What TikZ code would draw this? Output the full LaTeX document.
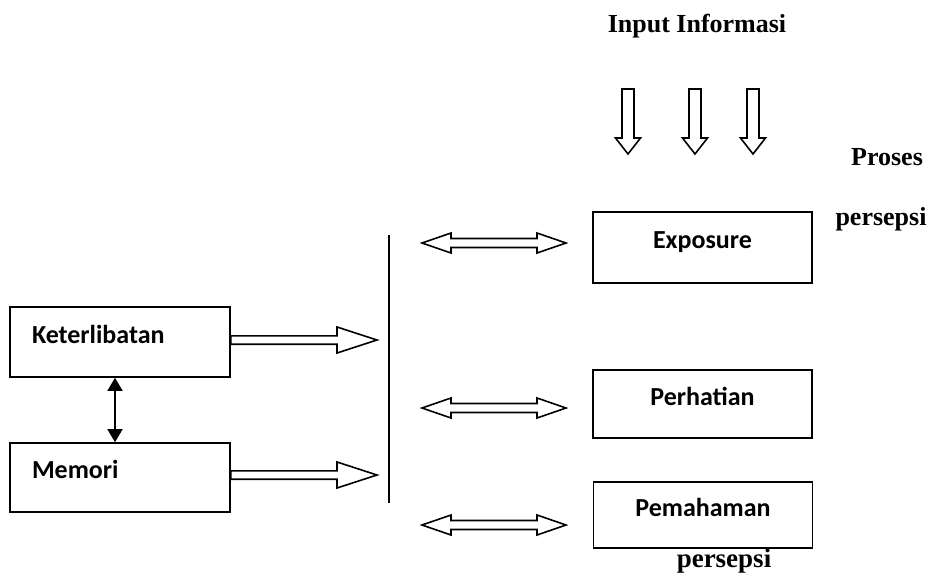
\documentclass[tikz,border=0pt]{standalone}
\usepackage{fontspec}
\setmainfont{Liberation Serif}
\newfontfamily\boxfont{Carlito}
\usetikzlibrary{calc,arrows.meta}

\tikzset{
  box/.style={draw, line width=1.6pt, minimum width=219pt, minimum height=68pt, inner sep=0pt,
    font=\boxfont\bfseries\fontsize{26}{31}\selectfont, text height=15pt, text depth=13pt},
  leftbox/.style={box, text width=176pt, align=left, inner xsep=22pt},
  lbl/.style={font=\bfseries\fontsize{26}{31}\selectfont, inner sep=0pt, anchor=base},
  % hollow arrow: {half shaft}{half head}{head length}
  hollow/.style n args={3}{line width=1.6pt, line join=miter, to path={
    let \p1=(\tikztostart), \p2=(\tikztotarget),
        \n1={atan2(\y2-\y1,\x2-\x1)}, \n2={veclen(\x2-\x1,\y2-\y1)} in
    [shift={(\p1)}, rotate=\n1]
    (0,#1) -- ({\n2-#3},#1) -- ({\n2-#3},#2) -- (\n2,0) -- ({\n2-#3},-#2)
      -- ({\n2-#3},-#1) -- (0,-#1) -- cycle}},
  hollowboth/.style n args={3}{line width=1.6pt, line join=miter, to path={
    let \p1=(\tikztostart), \p2=(\tikztotarget),
        \n1={atan2(\y2-\y1,\x2-\x1)}, \n2={veclen(\x2-\x1,\y2-\y1)} in
    [shift={(\p1)}, rotate=\n1]
    (0,0) -- (#3,#2) -- (#3,#1) -- ({\n2-#3},#1) -- ({\n2-#3},#2) -- (\n2,0)
      -- ({\n2-#3},-#2) -- ({\n2-#3},-#1) -- (#3,-#1) -- (#3,-#2) -- cycle}},
}

\begin{document}
\begin{tikzpicture}[x=1pt,y=-1pt]
  \useasboundingbox (0,0) rectangle (929,579);

  % texts
  \node[lbl] (info) at (697,32) {Input Informasi};
  \node[lbl] (proses) at (887,165) {Proses};
  \node[lbl] (persepsi) at (881,225) {persepsi};
  \node[lbl, font=\bfseries\fontsize{27}{32}\selectfont] (persepsib) at (724,567) {persepsi};

  % boxes
  \node[box, minimum height=71pt] (expo) at (702.5,247.5) {Exposure};
  \node[box] (perh) at (702.5,404) {Perhatian};
  \node[box, minimum height=66pt] (pema) at (703,515) {Pemahaman};
  \node[leftbox, minimum height=70pt] (ket) at (120,342) {Keterlibatan};
  \node[leftbox, minimum height=69pt] (mem) at (120,477.5) {Memori};

  % input arrows
  \foreach \px in {628,695,753} {
    \coordinate (top\px) at (\px,89);
    \coordinate (tip\px) at (\px,154);
    \draw[hollow={6}{12.5}{16}] (top\px) to (tip\px);
  }

  % vertical bar
  \coordinate (bartop) at (389,235);
  \coordinate (barbot) at (389,503);
  \draw[line width=2pt] (bartop) -- (barbot);

  % double arrows
  \foreach \b/\py in {expo/243, perh/408, pema/525} {
    \coordinate (l\b) at (422,\py);
    \coordinate (r\b) at (566,\py);
    \draw[hollowboth={4.5}{10}{29}] (l\b) to (r\b);
  }

  % arrows to the bar
  \coordinate (ketbar) at (377,340);
  \coordinate (membar) at (377,475);
  \draw[hollow={4.2}{13}{40}] ([yshift=2pt]ket.east) to (ketbar);
  \draw[hollow={4.2}{13}{40}] ([yshift=2.5pt]mem.east) to (membar);

  \draw[line width=1.6pt, {Triangle[length=13pt,width=15pt]}-{Triangle[length=13pt,width=15pt]}]
    ([xshift=-5pt]ket.south) -- ([xshift=-5pt]mem.north);

\end{tikzpicture}
\end{document}
